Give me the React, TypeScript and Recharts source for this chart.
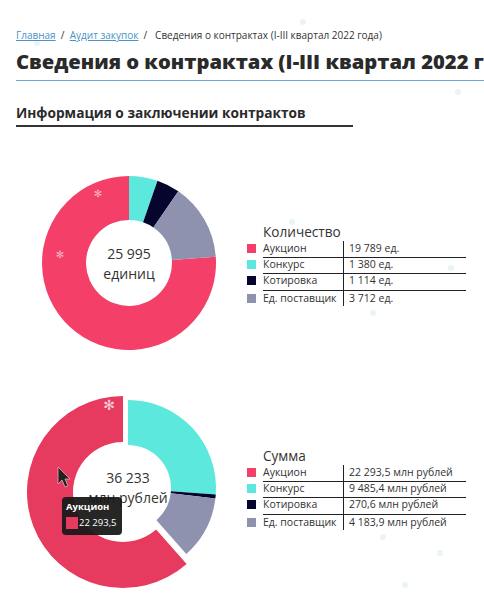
import { Cell, Pie, PieChart, Tooltip } from "recharts";

const categories = ["Аукцион", "Конкурс", "Котировка", "Ед. поставщик"];
const colors = ["#f43f68", "#5ce8dc", "#05052e", "#8e92ae"];
const countValues = [19789, 1380, 1114, 3712];
const sumValues = [22293.5, 9485.4, 270.6, 4183.9];
const flakes = [
  [303, 22], [458, 92], [37, 43], [292, 222], [451, 268], [373, 313], [383, 537], [440, 553], [405, 585],
];

const font = "'Open Sans', sans-serif";
const lineColor = "#222";

function fmt(v: number) {
  const [int, frac] = String(v).split(".");
  const s = int.replace(/\B(?=(\d{3})+$)/g, " ");
  return frac ? `${s},${frac}` : s;
}

const total = (arr: number[]) => arr.reduce((a, b) => a + b, 0);

const countData = categories.map((name, i) => ({ name, value: countValues[i] }));
const sumData = categories.map((name, i) => ({ name, value: sumValues[i] }));
const sumRest = sumData.slice(1);
const sumHover = sumData.slice(0, 1);

const countStart = 90 - (total(countValues.slice(1)) / total(countValues)) * 360;
const restAngle = (total(sumValues.slice(1)) / total(sumValues)) * 360;

function LegendBlock({ top, title, unit, values }: { top: number; title: string; unit: string; values: number[] }) {
  const rows = [0, 16, 32, 50];
  return (
    <div style={{ position: "absolute", left: 0, top, width: 484, height: 90, color: "#333" }}>
      <div style={{ position: "absolute", left: 263, top: -9, fontSize: 13.6, lineHeight: "18px" }}>{title}</div>
      <div style={{ position: "absolute", left: 343, top: 9, width: 1, height: 65, background: lineColor }} />
      {[25, 41, 58].map((y) => (
        <div key={y} style={{ position: "absolute", left: 263, top: y, width: 203, height: 1, background: lineColor }} />
      ))}
      {categories.map((c, i) => (
        <div key={c}>
          <div style={{ position: "absolute", left: 247, top: rows[i] + 12, width: 9, height: 9, background: colors[i] }} />
          <div style={{ position: "absolute", left: 263, top: rows[i] + 9, fontSize: 10.5, lineHeight: "15px", whiteSpace: "nowrap" }}>{c}</div>
          <div style={{ position: "absolute", left: 349, top: rows[i] + 9, fontSize: 10.5, lineHeight: "15px", whiteSpace: "nowrap" }}>
            {fmt(values[i])} {unit}
          </div>
        </div>
      ))}
    </div>
  );
}

function CenterText({ x, y, lines }: { x: number; y: number; lines: string[] }) {
  return (
    <div style={{ position: "absolute", left: x - 60, top: y, width: 120, textAlign: "center", fontSize: 14, lineHeight: "20px", color: "#333" }}>
      {lines.map((l) => (
        <div key={l}>{l}</div>
      ))}
    </div>
  );
}

function HoverTip() {
  return (
    <div style={{ width: 60, height: 38, boxSizing: "border-box", padding: "3px 4px", background: "rgba(24,24,26,0.94)", borderRadius: 4, color: "#fff", fontFamily: font, fontSize: 9.5, lineHeight: "14px" }}>
      <div style={{ fontWeight: 700, whiteSpace: "nowrap" }}>{categories[0]}</div>
      <div style={{ display: "flex", alignItems: "center", marginTop: 2, whiteSpace: "nowrap" }}>
        <span style={{ width: 12, height: 12, background: "#e63a5e", marginRight: 1 }} />
        {fmt(sumValues[0])}
      </div>
    </div>
  );
}

export default function App() {
  return (
    <div style={{ position: "absolute", left: 0, top: 0, width: 484, height: 604, overflow: "hidden", background: "#fff", fontFamily: font }}>
      {flakes.map(([x, y]) => (
        <div key={`${x}-${y}`} style={{ position: "absolute", left: x - 3, top: y - 3, width: 6, height: 6, borderRadius: 3, background: "#e9f4f8" }} />
      ))}

      <div style={{ position: "absolute", left: 16, top: 28, fontSize: 10, lineHeight: "14px", color: "#333", whiteSpace: "nowrap" }}>
        <span style={{ color: "#4a93c4", textDecoration: "underline" }}>Главная</span>
        <span>&nbsp;&nbsp;/&nbsp;&nbsp;</span>
        <span style={{ color: "#4a93c4", textDecoration: "underline" }}>Аудит закупок</span>
        <span>&nbsp;&nbsp;/&nbsp;&nbsp;&nbsp;</span>
        Сведения о контрактах (I-III квартал 2022 года)
      </div>
      <div style={{ position: "absolute", left: 16, top: 47, fontSize: 20.2, lineHeight: "28px", fontWeight: 800, color: "#2a2a2a", whiteSpace: "nowrap" }}>
        Сведения о контрактах (I-III квартал 2022 года)
      </div>
      <div style={{ position: "absolute", left: 16, top: 80, width: 468, height: 1, background: "#6fa8d0" }} />
      <div style={{ position: "absolute", left: 16, top: 104, fontSize: 13.7, lineHeight: "18px", fontWeight: 700, color: "#2a2a2a", whiteSpace: "nowrap" }}>
        Информация о заключении контрактов
      </div>
      <div style={{ position: "absolute", left: 16, top: 125, width: 337, height: 1.5, background: "#333" }} />

      <div style={{ position: "absolute", left: 0, top: 0 }}>
        <PieChart width={484} height={604} margin={{ top: 0, right: 0, bottom: 0, left: 0 }}>
          <Pie
            data={countData}
            dataKey="value"
            nameKey="name"
            cx={129}
            cy={263}
            innerRadius={43}
            outerRadius={87}
            startAngle={countStart}
            endAngle={countStart - 360}
            stroke="none"
            isAnimationActive={false}
          >
            {countData.map((d, i) => (
              <Cell key={d.name} fill={colors[i]} />
            ))}
          </Pie>
          <Pie
            data={sumRest}
            dataKey="value"
            nameKey="name"
            cx={128}
            cy={488}
            innerRadius={43}
            outerRadius={88}
            startAngle={90}
            endAngle={90 - restAngle}
            stroke="none"
            isAnimationActive={false}
          >
            {sumRest.map((d, i) => (
              <Cell key={d.name} fill={colors[i + 1]} />
            ))}
          </Pie>
          <Pie
            data={sumHover}
            dataKey="value"
            nameKey="name"
            cx={123}
            cy={492}
            innerRadius={50}
            outerRadius={96}
            startAngle={90 - restAngle}
            endAngle={-270}
            fill="#e63a5e"
            stroke="none"
            isAnimationActive={false}
          />
          <Tooltip
            active
            defaultIndex={0}
            position={{ x: 62, y: 497 }}
            content={<HoverTip />}
            isAnimationActive={false}
            wrapperStyle={{ zIndex: 5 }}
          />
        </PieChart>
      </div>

      <CenterText x={129} y={244} lines={["25 995", "единиц"]} />
      <CenterText x={128} y={468} lines={["36 233", "млн рублей"]} />

      <LegendBlock top={232} title="Количество" unit="ед." values={countValues} />
      <LegendBlock top={456} title="Сумма" unit="млн рублей" values={sumValues} />

      {[[98, 194, "#f8b4c4", 10], [60, 255, "#f8b4c4", 10], [109, 405, "#f7d0d9", 14]].map(([x, y, c, s]) => (
        <div key={`${x}`} style={{ position: "absolute", left: (x as number) - 8, top: (y as number) - 8, width: 16, textAlign: "center", fontFamily: "'DejaVu Sans'", fontSize: s as number, lineHeight: "16px", color: c as string }}>
          ✻
        </div>
      ))}

      <svg style={{ position: "absolute", left: 50, top: 460, zIndex: 6 }} width={24} height={32}>
        <path d="M8 7 L8 24 L12 20 L15 27 L18 26 L15 19 L20 19 Z" fill="#222" stroke="#e8aab8" strokeWidth={0.8} />
      </svg>
    </div>
  );
}
